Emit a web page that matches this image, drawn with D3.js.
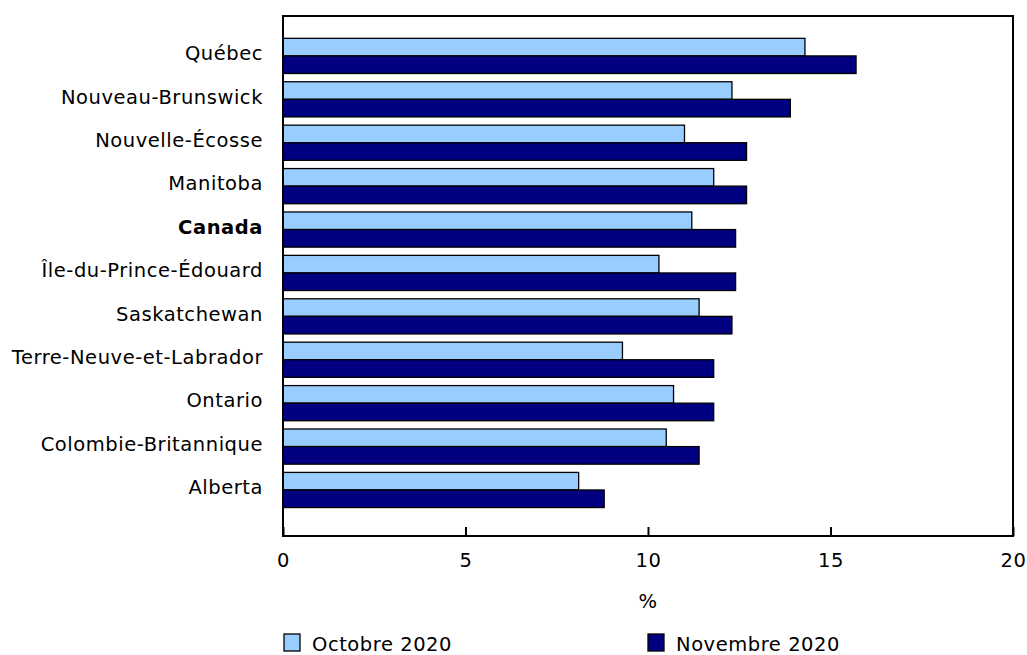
<!DOCTYPE html>
<html>
<head>
<meta charset="utf-8">
<script src="https://cdn.jsdelivr.net/npm/d3@7"></script>
<style>
  body { margin: 0; background: #fff; }
  svg text { font-family: "DejaVu Sans", Verdana, sans-serif; fill: #000; letter-spacing: 0.55px; }
</style>
</head>
<body>
<div id="chart"></div>
<script>
const provinces = ["Québec", "Nouveau-Brunswick", "Nouvelle-Écosse", "Manitoba", "Canada",
  "Île-du-Prince-Édouard", "Saskatchewan", "Terre-Neuve-et-Labrador", "Ontario",
  "Colombie-Britannique", "Alberta"]
const octobre = [14.3, 12.3, 11.0, 11.8, 11.2, 10.3, 11.4, 9.3, 10.7, 10.5, 8.1]
const novembre = [15.7, 13.9, 12.7, 12.7, 12.4, 12.4, 12.3, 11.8, 11.8, 11.4, 8.8]
const seriesNames = ["Octobre 2020", "Novembre 2020"]
const seriesColors = ["#99ccff", "#000080"]
const xTicks = [0, 5, 10, 15, 20]

const plotLeft = 283, plotRight = 1013, plotTop = 16, plotBottom = 536

const svg = d3.select("#chart")
  .append("svg")
    .attr("width", 1027)
    .attr("height", 655)

const x = d3.scaleLinear()
  .domain([0, 20])
  .range([plotLeft, plotRight])

const y = d3.scaleBand()
  .domain(provinces)
  .range([plotTop, plotBottom])
  .paddingInner(0.19)
  .paddingOuter(0.585)
  .align(0.44)

const ySub = d3.scaleBand()
  .domain([0, 1])
  .range([0, y.bandwidth()])

const rows = provinces.map((p, i) => ({name: p, values: [octobre[i], novembre[i]]}))

const groups = svg.selectAll("g.row")
  .data(rows).enter()
  .append("g")
    .attr("class", "row")
    .attr("transform", d => "translate(0," + y(d.name) + ")")

groups.selectAll("rect")
  .data(d => d.values.map((v, k) => ({k: k, v: v}))).enter()
  .append("rect")
    .attr("x", x(0))
    .attr("y", d => ySub(d.k))
    .attr("width", d => x(d.v) - x(0))
    .attr("height", ySub.bandwidth())
    .attr("fill", d => seriesColors[d.k])
    .attr("stroke", "#000")
    .attr("stroke-width", 1.3)

// category labels
const yAxis = svg.append("g")
  .attr("transform", "translate(" + plotLeft + ",0)")
  .call(d3.axisLeft(y).tickSize(0).tickPadding(20))
yAxis.select(".domain").remove()
yAxis.selectAll("text")
  .style("font-size", "19.5px")
  .attr("dy", "0.22em")
  .style("font-weight", d => d == "Canada" ? "bold" : "normal")

// x axis
const xAxis = svg.append("g")
  .attr("transform", "translate(0," + plotBottom + ")")
  .call(d3.axisBottom(x).tickValues(xTicks).tickSizeInner(-9).tickSizeOuter(0).tickPadding(17.5))
xAxis.select(".domain").remove()
xAxis.selectAll("line").attr("stroke", "#000").attr("stroke-width", 2)
xAxis.selectAll("text").style("font-size", "19.5px")

// frame
svg.append("rect")
  .attr("x", plotLeft)
  .attr("y", plotTop)
  .attr("width", plotRight - plotLeft)
  .attr("height", plotBottom - plotTop)
  .attr("fill", "none")
  .attr("stroke", "#000")
  .attr("stroke-width", 2)

svg.append("text")
  .attr("x", (plotLeft + plotRight) / 2)
  .attr("y", 608)
  .attr("text-anchor", "middle")
  .style("font-size", "19.5px")
  .text("%")

// legend
const legendX = [284, 648]
const legend = svg.selectAll("g.legend")
  .data(seriesNames).enter()
  .append("g")
    .attr("class", "legend")
    .attr("transform", (d, i) => "translate(" + legendX[i] + ",634)")
legend.append("rect")
  .attr("width", 16)
  .attr("height", 17)
  .attr("fill", (d, i) => seriesColors[i])
  .attr("stroke", "#000")
  .attr("stroke-width", 1.3)
legend.append("text")
  .attr("x", 28)
  .attr("y", 17)
  .style("font-size", "19.5px")
  .text(d => d)
</script>
</body>
</html>
